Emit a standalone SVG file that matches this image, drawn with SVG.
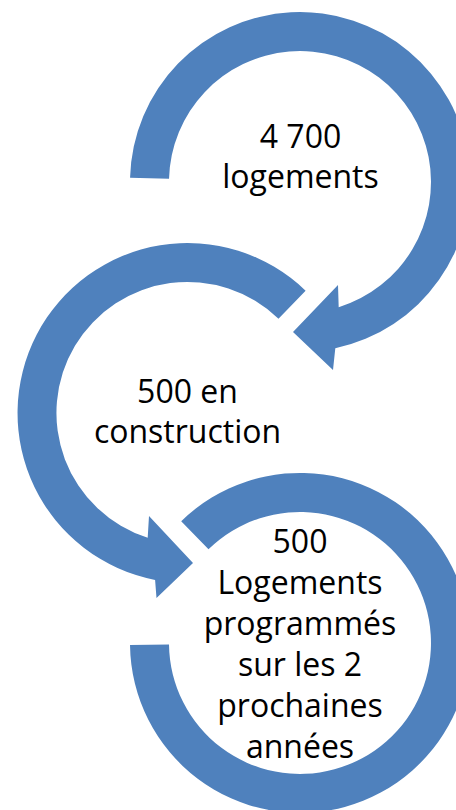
<svg xmlns="http://www.w3.org/2000/svg" width="456" height="810" viewBox="0 0 456 810">
<style>
.arrow{fill:#4F81BD;stroke:none}
.lbl{font-family:"Open Sans","Noto Sans","Liberation Sans",sans-serif;font-size:32px;fill:#000;text-anchor:middle}
</style>
<rect width="456" height="810" fill="#fff"/>
<g id="connectors">
<path id="arrow1" class="arrow" d="M130.05,177.85 A170,170 0 1 1 335.3,348.3 L333,370 L293,332 L338,285 L338.7,307.2 A131,131 0 1 0 169.04,178.8 Z"/>
<path id="arrow2" class="arrow" d="M305.6,290.7 A170,170 0 1 0 155.1,579.9 L156.5,598 L193,563 L149,516 L147.7,537.8 A131,131 0 1 1 278.5,318.8 Z"/>
<path id="arrow3" class="arrow" d="M181.2,521.3 A170,170 0 1 1 130.01,645.1 L169,644.6 A131,131 0 1 0 208.5,549.2 Z"/>
</g>
<g id="node1">
<text class="lbl" x="300.5" y="148">4 700</text>
<text class="lbl" x="300.5" y="188">logements</text>
</g>
<g id="node2">
<text class="lbl" x="187.5" y="403">500 en</text>
<text class="lbl" x="187.5" y="443">construction</text>
</g>
<g id="node3">
<text class="lbl" x="300" y="553">500</text>
<text class="lbl" x="300" y="594">Logements</text>
<text class="lbl" x="300" y="635">programmés</text>
<text class="lbl" x="300" y="676">sur les 2</text>
<text class="lbl" x="300" y="717">prochaines</text>
<text class="lbl" x="300" y="758">années</text>
</g>
</svg>
